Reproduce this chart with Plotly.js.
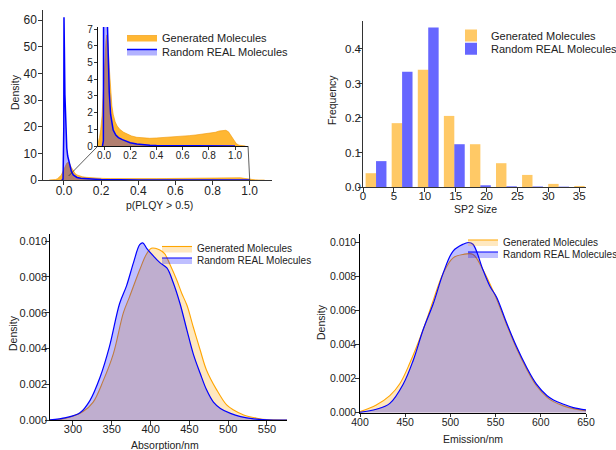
<!DOCTYPE html>
<html>
<head>
<meta charset="utf-8">
<script src="https://cdn.plot.ly/plotly-3.0.1.min.js"></script>
<style>html,body{margin:0;padding:0;background:#fff}#chart{width:616px;height:450px}</style>
</head>
<body>
<div id="chart"></div>
<script>
// ---------- DATA ----------
const seriesNames = ["Generated Molecules", "Random REAL Molecules"];

// p(PLQY > 0.5) density
const plqyGenX = [-0.08,-0.06,-0.045,-0.035,-0.025,-0.015,-0.005,0.005,0.015,0.022,0.03,0.04,0.05,0.06,0.07,0.085,0.1,0.12,0.15,0.18,0.21,0.25,0.3,0.35,0.4,0.45,0.5,0.55,0.6,0.65,0.7,0.75,0.8,0.85,0.88,0.91,0.93,0.95,0.97,0.99,1.01,1.03,1.05,1.08];
const plqyGenY = [0,0.05,0.2,0.5,1.0,1.8,3.3,5.0,6.3,6.65,6.2,4.7,3.3,2.4,1.9,1.45,1.2,1.0,0.82,0.7,0.6,0.52,0.47,0.46,0.48,0.5,0.52,0.55,0.58,0.62,0.66,0.7,0.75,0.82,0.9,0.95,0.94,0.85,0.62,0.35,0.14,0.05,0.015,0];
const plqyRealX = [-0.012,-0.005,-0.001,0.0,0.002,0.005,0.01,0.015,0.02,0.025,0.03,0.035,0.04,0.05,0.06,0.07,0.09,0.11,0.14,0.17,0.2,0.25,0.3,0.35,0.4,0.5,0.6,0.7,0.8,0.9,1.0];
const plqyRealY = [0,0.3,20,61,50,32,18,12,9,7.5,6.2,4.5,3.2,1.9,1.3,0.95,0.65,0.5,0.38,0.3,0.2,0.12,0.07,0.05,0.03,0.02,0.015,0.01,0.01,0.008,0];

// SP2 size histogram (bin centres)
const sp2Bins = [2.11,6.33,10.56,14.78,19.0,23.22,27.44,31.67,35.89];
const sp2Gen  = [0.040,0.185,0.340,0.206,0.124,0.069,0.035,0.009,0.003];
const sp2Real = [0.075,0.334,0.462,0.124,0.005,0.002,0.0015,0.001,0.0];

// Absorption density
const absGenX  = [270,291,313,326,339,352,365,373,386,395,401,406,412,418,425,434,440,447,455,464,472,485,498,507,520,537,550,576];
const absGenY  = [0,0.0001,0.00047,0.001,0.0022,0.0037,0.006,0.0069,0.0084,0.0093,0.0096,0.0096,0.0095,0.0093,0.0087,0.0078,0.0071,0.0064,0.0052,0.0039,0.0028,0.0017,0.00084,0.00056,0.00028,0.0001,0.00002,0];
const absRealX = [270,291,309,322,335,347,360,369,378,386,390,395,403,412,421,429,438,447,455,464,472,481,490,503,516,533,550,576];
const absRealY = [0,0.00013,0.0004,0.0011,0.0024,0.0041,0.0065,0.0075,0.0088,0.0098,0.0099,0.0096,0.0092,0.0088,0.0085,0.0077,0.0065,0.005,0.0037,0.0026,0.0017,0.001,0.00065,0.00037,0.00019,0.00006,0.00001,0];

// Emission density
const emGenX  = [400,418,433,444,455,470,481,492,503,514,525,536,551,562,573,584,595,607,614,625,636,650];
const emGenY  = [0.00006,0.00045,0.001,0.0017,0.0029,0.0049,0.0066,0.0082,0.0091,0.0093,0.0093,0.0084,0.0067,0.0052,0.0038,0.0026,0.0016,0.0009,0.00065,0.0004,0.00024,0.00012];
const emRealX = [400,418,433,448,459,470,481,492,503,514,520,525,536,544,551,562,573,584,595,607,614,625,636,650];
const emRealY = [0.00002,0.0002,0.00055,0.0017,0.0031,0.0049,0.0064,0.0082,0.0095,0.0099,0.0100,0.0099,0.0084,0.0074,0.0068,0.0053,0.0039,0.0027,0.0017,0.001,0.00075,0.0005,0.0003,0.00016];

// axis titles
const axisTitles = ["Density", "p(PLQY > 0.5)", "Frequency", "SP2 Size", "Density", "Absorption/nm", "Density", "Emission/nm"];

// ---------- LAYOUT HELPERS ----------
const W = 616, H = 450;
const dx = (a, b) => [a / W, b / W];
const dy = (t, b) => [1 - b / H, 1 - t / H];
const FONT = "Liberation Sans, Arial, Helvetica, sans-serif";
const ORANGE = "rgb(255,165,0)", BLUE = "rgb(0,0,255)";

function axis(o) {
  return Object.assign({
    showgrid: false, zeroline: false, showline: true, linecolor: "#333", linewidth: 1.2,
    ticks: "outside", ticklen: 3.5, tickwidth: 1, tickcolor: "#333",
    tickfont: {family: FONT, size: 11, color: "#222"}, fixedrange: true
  }, o);
}

const traces = [
  // top-left main
  {x: plqyGenX, y: plqyGenY, xaxis: "x", yaxis: "y", type: "scatter", mode: "lines", fill: "tozeroy",
   fillcolor: "rgba(255,165,0,0.8)", line: {color: "rgb(240,150,0)", width: 0.6}, name: seriesNames[0], legend: "legend"},
  {x: plqyRealX, y: plqyRealY, xaxis: "x", yaxis: "y", type: "scatter", mode: "lines", fill: "tozeroy",
   fillcolor: "rgba(0,0,255,0.3)", line: {color: BLUE, width: 1.5}, name: seriesNames[1], legend: "legend2"},
  // inset
  {x: plqyGenX, y: plqyGenY, xaxis: "x2", yaxis: "y2", type: "scatter", mode: "lines", fill: "tozeroy",
   fillcolor: "rgba(255,165,0,0.8)", line: {color: "rgb(240,150,0)", width: 0.6}, showlegend: false},
  {x: plqyRealX, y: plqyRealY, xaxis: "x2", yaxis: "y2", type: "scatter", mode: "lines", fill: "tozeroy",
   fillcolor: "rgba(0,0,255,0.3)", line: {color: BLUE, width: 1.5}, showlegend: false},
  // bars
  {x: sp2Bins, y: sp2Gen, xaxis: "x3", yaxis: "y3", type: "bar", marker: {color: "rgba(255,165,0,0.6)", line: {width: 0}},
   name: seriesNames[0], legend: "legend3"},
  {x: sp2Bins, y: sp2Real, xaxis: "x3", yaxis: "y3", type: "bar", marker: {color: "rgba(0,0,255,0.6)", line: {width: 0}},
   name: seriesNames[1], legend: "legend4"},
  // absorption
  {x: absGenX, y: absGenY, xaxis: "x4", yaxis: "y4", type: "scatter", mode: "lines", fill: "tozeroy", line: {shape: "spline", color: ORANGE, width: 1.1},
   fillcolor: "rgba(255,165,0,0.25)", name: seriesNames[0], legend: "legend5"},
  {x: absRealX, y: absRealY, xaxis: "x4", yaxis: "y4", type: "scatter", mode: "lines", fill: "tozeroy", line: {shape: "spline", color: BLUE, width: 1.2},
   fillcolor: "rgba(0,0,255,0.25)", name: seriesNames[1], legend: "legend6"},
  // emission
  {x: emGenX, y: emGenY, xaxis: "x5", yaxis: "y5", type: "scatter", mode: "lines", fill: "tozeroy", line: {shape: "spline", color: ORANGE, width: 1.1},
   fillcolor: "rgba(255,165,0,0.25)", name: seriesNames[0], legend: "legend7"},
  {x: emRealX, y: emRealY, xaxis: "x5", yaxis: "y5", type: "scatter", mode: "lines", fill: "tozeroy", line: {shape: "spline", color: BLUE, width: 1.2},
   fillcolor: "rgba(0,0,255,0.25)", name: seriesNames[1], legend: "legend8"}
];

const titleFont = {family: FONT, size: 10.5, color: "#222"};
function leg(textX, rowY, size) {
  return {bgcolor: "rgba(0,0,0,0)", xanchor: "left", yanchor: "top", borderwidth: 0,
    font: {family: FONT, size: size, color: "#222"},
    x: (textX - 40) / W, y: 1 - (rowY - 14) / H};
}
function ann(text, px, py, rot) {
  return {text: text, xref: "paper", yref: "paper", x: px / W, y: 1 - py / H, xanchor: "center", yanchor: "middle",
    showarrow: false, textangle: rot ? -90 : 0, font: titleFont};
}

const layout = {
  width: W, height: H, margin: {l: 0, r: 0, t: 0, b: 0, autoexpand: false},
  paper_bgcolor: "#fff", plot_bgcolor: "rgba(0,0,0,0)",
  barmode: "group", bargap: 0.2, bargroupgap: 0,
  xaxis: axis({domain: dx(43, 272), range: [-0.113, 1.12], anchor: "y", tickvals: [0, 0.2, 0.4, 0.6, 0.8, 1.0], tickformat: ".1f",
    tickfont: {family: FONT, size: 12, color: "#222"}, ticklabelstandoff: -4}),
  yaxis: axis({domain: dy(10, 180), range: [0, 63.75], anchor: "x", tickvals: [0, 10, 20, 30, 40, 50, 60],
    tickfont: {family: FONT, size: 12, color: "#222"}, ticklabelstandoff: -1}),
  xaxis2: axis({domain: dx(98, 248), range: [-0.046, 1.099], anchor: "y2", tickvals: [0, 0.2, 0.4, 0.6, 0.8, 1.0], tickformat: ".1f",
    tickfont: {family: FONT, size: 10, color: "#222"}, ticklen: 3, linecolor: "#111", ticklabelstandoff: -3}),
  yaxis2: axis({domain: dy(27, 146), range: [0, 7.12], anchor: "x2", tickvals: [0, 1, 2, 3, 4, 5, 6, 7],
    tickfont: {family: FONT, size: 10, color: "#222"}, ticklen: 3, linecolor: "#111", ticklabelstandoff: -1}),
  xaxis3: axis({domain: dx(363, 586), range: [0, 36.1], anchor: "y3", tickvals: [0, 5, 10, 15, 20, 25, 30, 35],
    tickfont: {family: FONT, size: 11.5, color: "#222"}, ticklabelstandoff: -6}),
  yaxis3: axis({domain: dy(21, 187), range: [0, 0.481], anchor: "x3", tickvals: [0, 0.1, 0.2, 0.3, 0.4], tickformat: ".1f",
    tickfont: {family: FONT, size: 11.5, color: "#222"}, ticklabelstandoff: -5}),
  xaxis4: axis({domain: dx(50, 287), range: [270.4, 575.8], anchor: "y4", tickvals: [300, 350, 400, 450, 500, 550], linecolor: "#000",
    ticklabelstandoff: -5}),
  yaxis4: axis({domain: dy(234, 420), range: [0, 0.0104], anchor: "x4", tickvals: [0, 0.002, 0.004, 0.006, 0.008, 0.010], tickformat: ".3f", linecolor: "#000",
    ticklabelstandoff: -4}),
  xaxis5: axis({domain: dx(360, 586), range: [400, 650], anchor: "y5", tickvals: [400, 450, 500, 550, 600, 650], linecolor: "#000",
    tickfont: {family: FONT, size: 10.5, color: "#222"}, ticklabelstandoff: -4}),
  yaxis5: axis({domain: dy(234, 412.7), range: [0, 0.0105], anchor: "x5", tickvals: [0, 0.002, 0.004, 0.006, 0.008, 0.010], tickformat: ".3f", linecolor: "#000",
    tickfont: {family: FONT, size: 10.5, color: "#222"}, ticklabelstandoff: -3}),
  legend:  leg(162, 37, 11),
  legend2: leg(162, 51, 11),
  legend3: leg(491, 35, 11),
  legend4: leg(491, 48.3, 11),
  legend5: leg(197, 248, 10),
  legend6: leg(197, 259.5, 10),
  legend7: leg(503, 241.5, 10),
  legend8: leg(503, 253.5, 10),
  annotations: [
    ann(axisTitles[0], 15, 92, true),
    ann(axisTitles[1], 159, 204.5, false),
    ann(axisTitles[2], 332, 100, true),
    ann(axisTitles[3], 475, 208.5, false),
    ann(axisTitles[4], 13, 333, true),
    ann(axisTitles[5], 165, 445, false),
    ann(axisTitles[6], 321, 322, true),
    ann(axisTitles[7], 473, 438.5, false)
  ],
  shapes: [
    {type: "line", xref: "x", yref: "y", x0: 0.183, y0: 12.75, x1: 0.025, y1: 1.5, line: {color: "#333", width: 0.8}},
    {type: "line", xref: "x", yref: "y", x0: 0.991, y0: 12.75, x1: 1.0, y1: 0, line: {color: "#333", width: 0.8}}
  ]
};

Plotly.newPlot("chart", traces, layout, {staticPlot: true, displayModeBar: false});
</script>
</body>
</html>
